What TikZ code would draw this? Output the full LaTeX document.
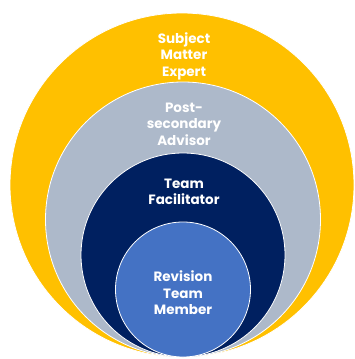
\documentclass[tikz,border=0pt]{standalone}
\usepackage{fontspec}
\setmainfont{Poppins}
\definecolor{cyellow}{HTML}{FFC000}
\definecolor{cgray}{HTML}{ADB9CA}
\definecolor{cnavy}{HTML}{002060}
\definecolor{cblue}{HTML}{4472C4}
\begin{document}
\begin{tikzpicture}[x=1pt,y=-1pt,
  ring/.style={draw=white,line width=0.8pt},
  lbl/.style={text=white,font=\fontsize{13.5}{16.5}\selectfont\bfseries,align=center,inner sep=0pt}]
\useasboundingbox (0,0) rectangle (355,359);
\fill[white] (0,0) rectangle (355,359);
\path[ring,fill=cyellow] (182,185) circle[radius=172];
\path[ring,fill=cgray] (183,219.5) circle[radius=137.5];
\path[ring,fill=cnavy] (183,255) circle[radius=102];
\path[ring,fill=cblue] (183,289.5) circle[radius=67.5];
\node[lbl] (sme) at (184,56) {Subject\\Matter\\Expert};
\node[lbl] (psa) at (184,124) {Post-\\secondary\\Advisor};
\node[lbl] (tf) at (184,192) {Team\\Facilitator};
\node[lbl] (rtm) at (183,293) {Revision\\Team\\Member};
\end{tikzpicture}
\end{document}
